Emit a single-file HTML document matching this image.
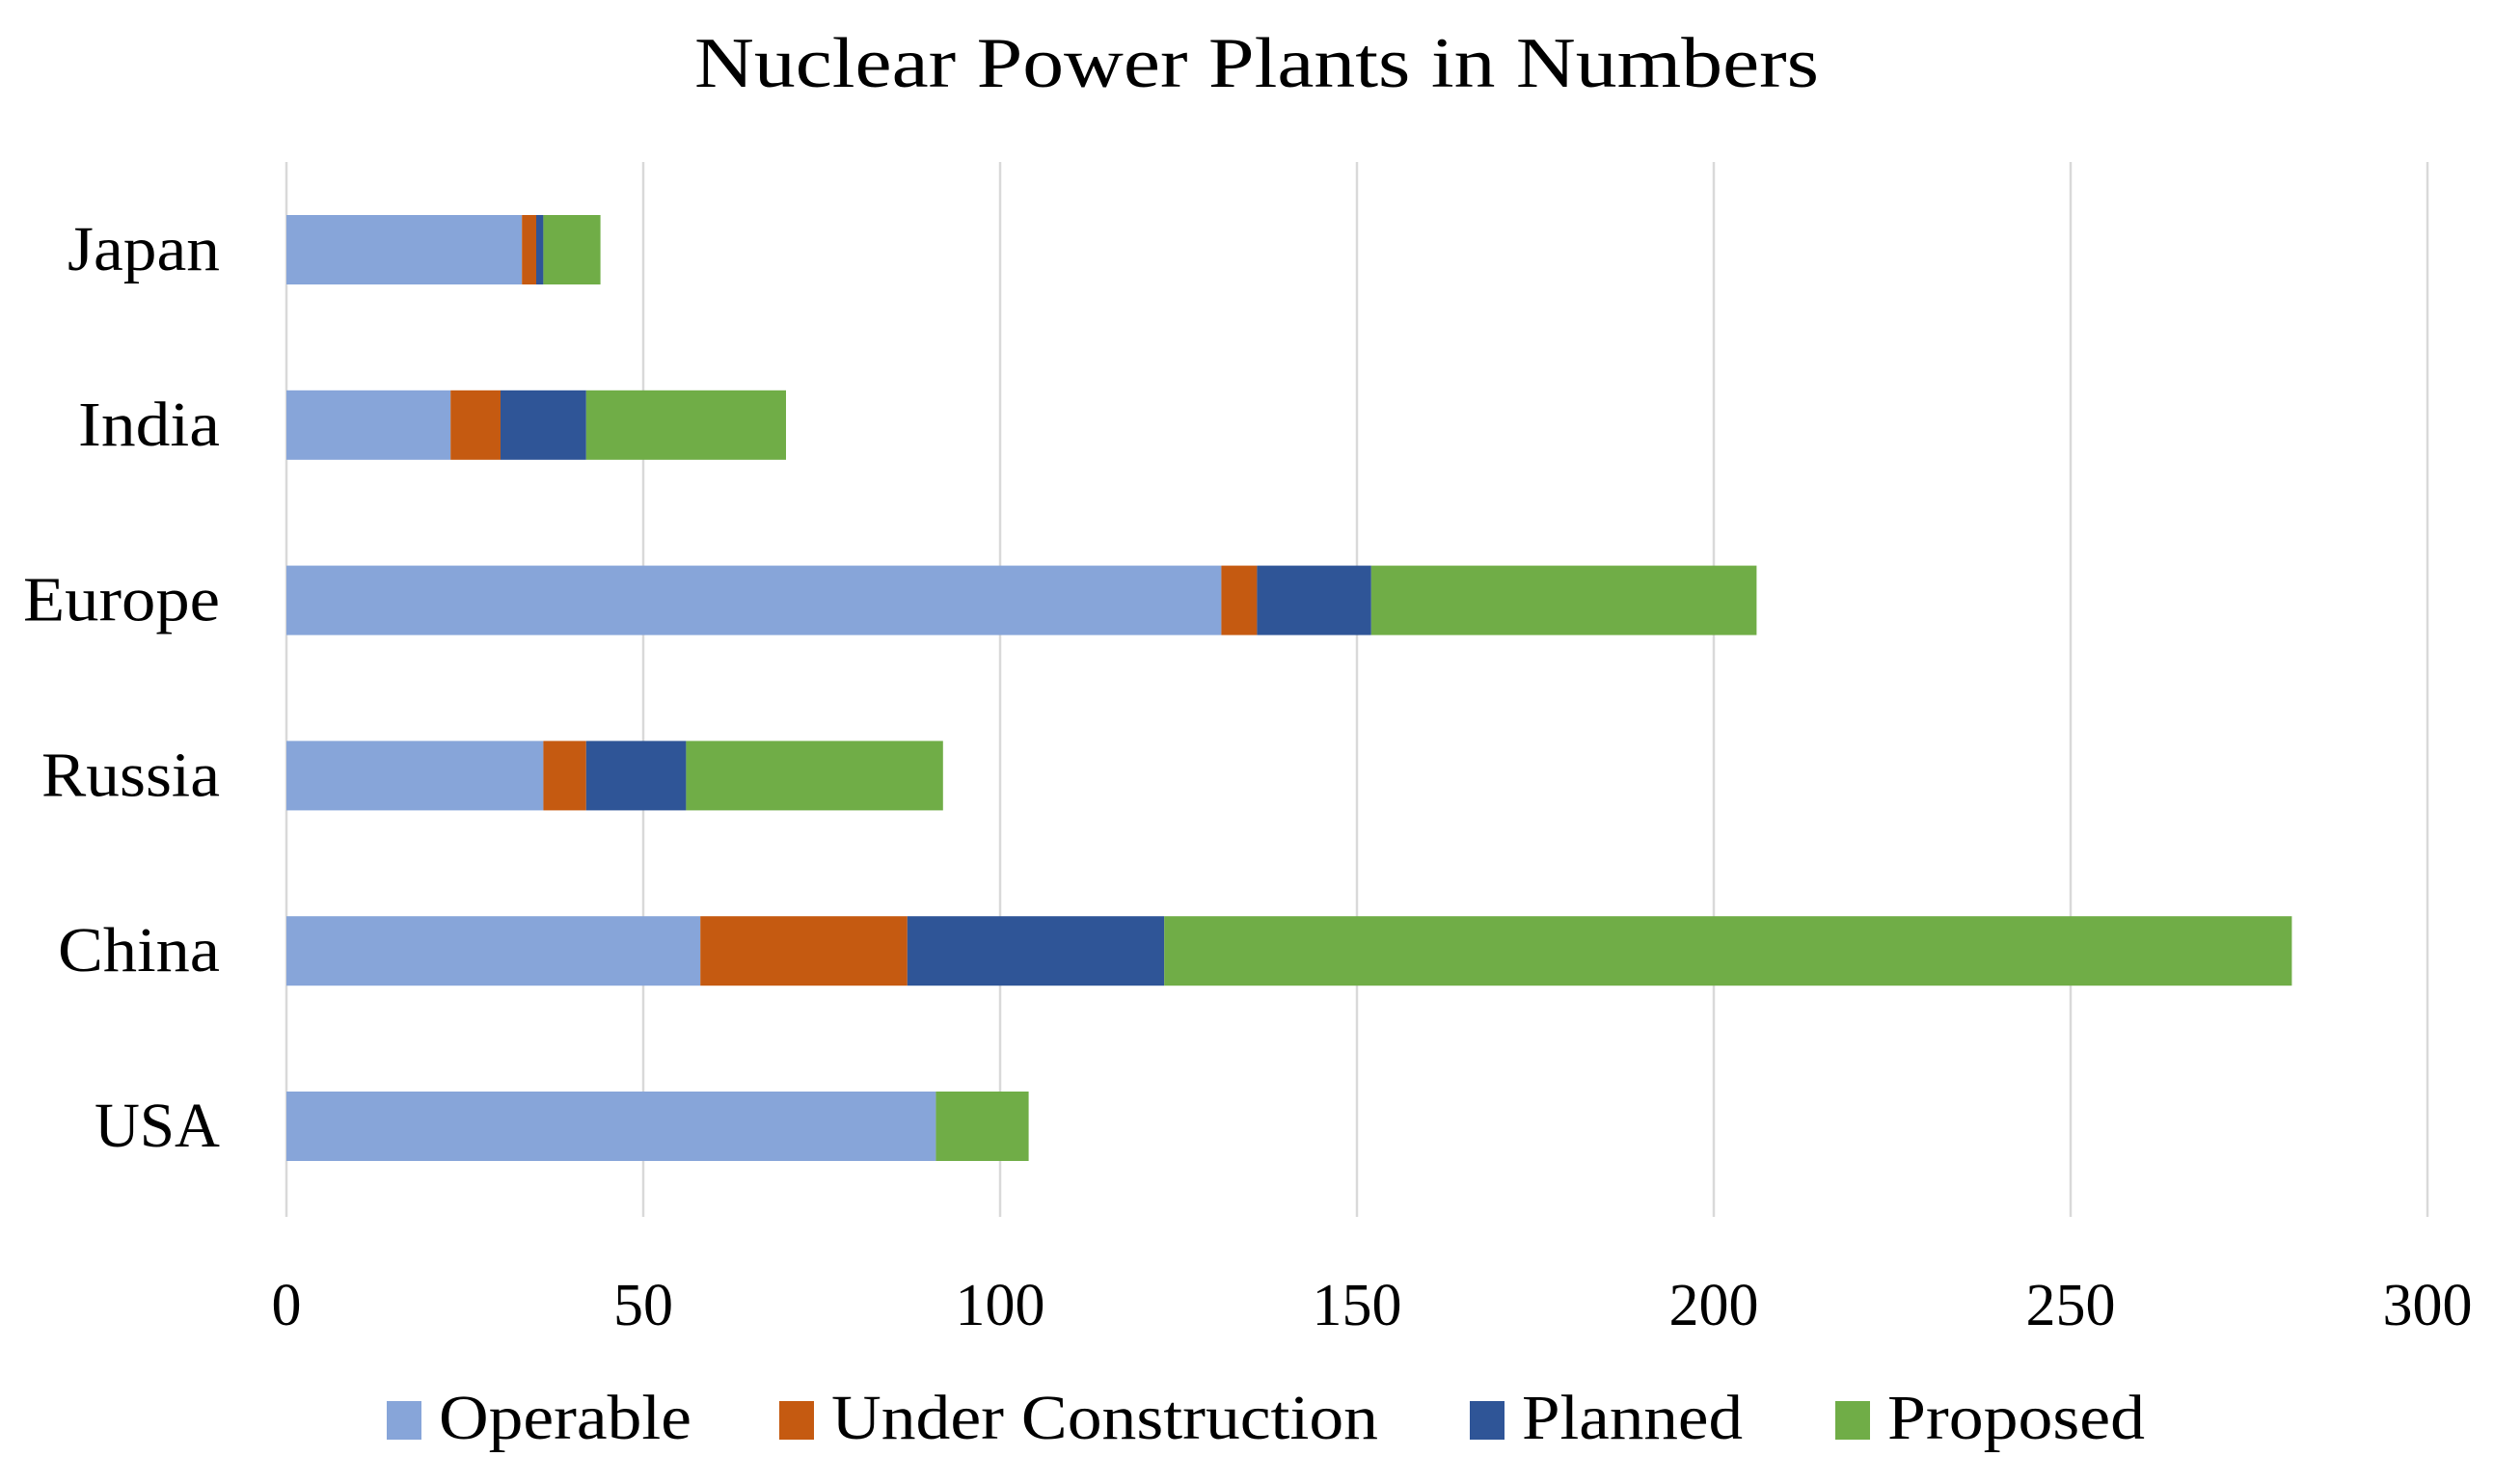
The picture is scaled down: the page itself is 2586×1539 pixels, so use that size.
<!DOCTYPE html>
<html><head><meta charset="utf-8"><style>
html,body{margin:0;padding:0;background:#fff;}
svg{display:block;font-family:"Liberation Serif",serif;}
</style></head><body>
<svg id="chart" width="2586" height="1539" viewBox="0 0 2586 1539" xmlns="http://www.w3.org/2000/svg">
<text x="1303" y="90" font-size="74" text-anchor="middle" fill="#000" textLength="1166" lengthAdjust="spacingAndGlyphs">Nuclear Power Plants in Numbers</text>
<g id="grid"></g>
<g id="bars"></g>
<g id="ylabels"></g>
<g id="xlabels"></g>
<g id="legend"></g>
</svg>
<script>
const categories = ["Japan","India","Europe","Russia","China","USA"];
const seriesNames = ["Operable","Under Construction","Planned","Proposed"];
const operable = [33,23,131,36,58,91];
const underConstruction = [2,7,5,6,29,0];
const planned = [1,12,16,14,36,0];
const proposed = [8,28,54,36,158,13];
const xTicks = [0,50,100,150,200,250,300];

const colors = ["#87a5d9","#c55a11","#2f5597","#70ad47"];
const series = [operable, underConstruction, planned, proposed];
const labelWidths = [158,147,204,185,168,130];
const legendWidths = [262,567,229,267];
const NS = "http://www.w3.org/2000/svg";
const x0 = 297, x1 = 2517, xMax = 300;
const xs = v => x0 + (v / xMax) * (x1 - x0);
const yTop = 168, yBot = 1262;
const firstCenter = 259, step = 181.8, barH = 72;
const yc = i => firstCenter + i * step;

function mk(tag, attrs, parent){const e=document.createElementNS(NS,tag);for(const k in attrs)e.setAttribute(k,attrs[k]);parent.appendChild(e);return e;}
const grid=document.getElementById('grid'), bars=document.getElementById('bars'), yl=document.getElementById('ylabels'), xl=document.getElementById('xlabels'), lg=document.getElementById('legend');

xTicks.forEach(t=>{
  const l=mk('line',{x1:xs(t),x2:xs(t),y1:yTop,y2:yBot,stroke:'#d9d9d9','stroke-width':2.5},grid);
  
  
  const tx=mk('text',{x:xs(t),y:1374,'font-size':62,'text-anchor':'middle',fill:'#000'},xl);
  tx.textContent=t;
  
  
});

categories.forEach((c,i)=>{
  let acc=0;
  series.forEach((s,j)=>{
    const v=s[i];
    if(v>0){
      const r=mk('rect',{x:xs(acc),y:yc(i)-barH/2,width:xs(acc+v)-xs(acc),height:barH,fill:colors[j]},bars);
      
      
    }
    acc+=v;
  });
  const t=mk('text',{x:228,y:yc(i)+21,'font-size':66,'text-anchor':'end',fill:'#000',textLength:labelWidths[i],lengthAdjust:'spacingAndGlyphs'},yl);
  t.textContent=c;
  
  
});

const legX=[401,808,1524,1903];
seriesNames.forEach((n,j)=>{
  const r=mk('rect',{x:legX[j],y:1453,width:36,height:40,fill:colors[j]},lg);
  
  
  const t=mk('text',{x:legX[j]+54,y:1492,'font-size':66,fill:'#000',textLength:legendWidths[j],lengthAdjust:'spacingAndGlyphs'},lg);
  t.textContent=n;
  
  
});
</script>
</body></html>
